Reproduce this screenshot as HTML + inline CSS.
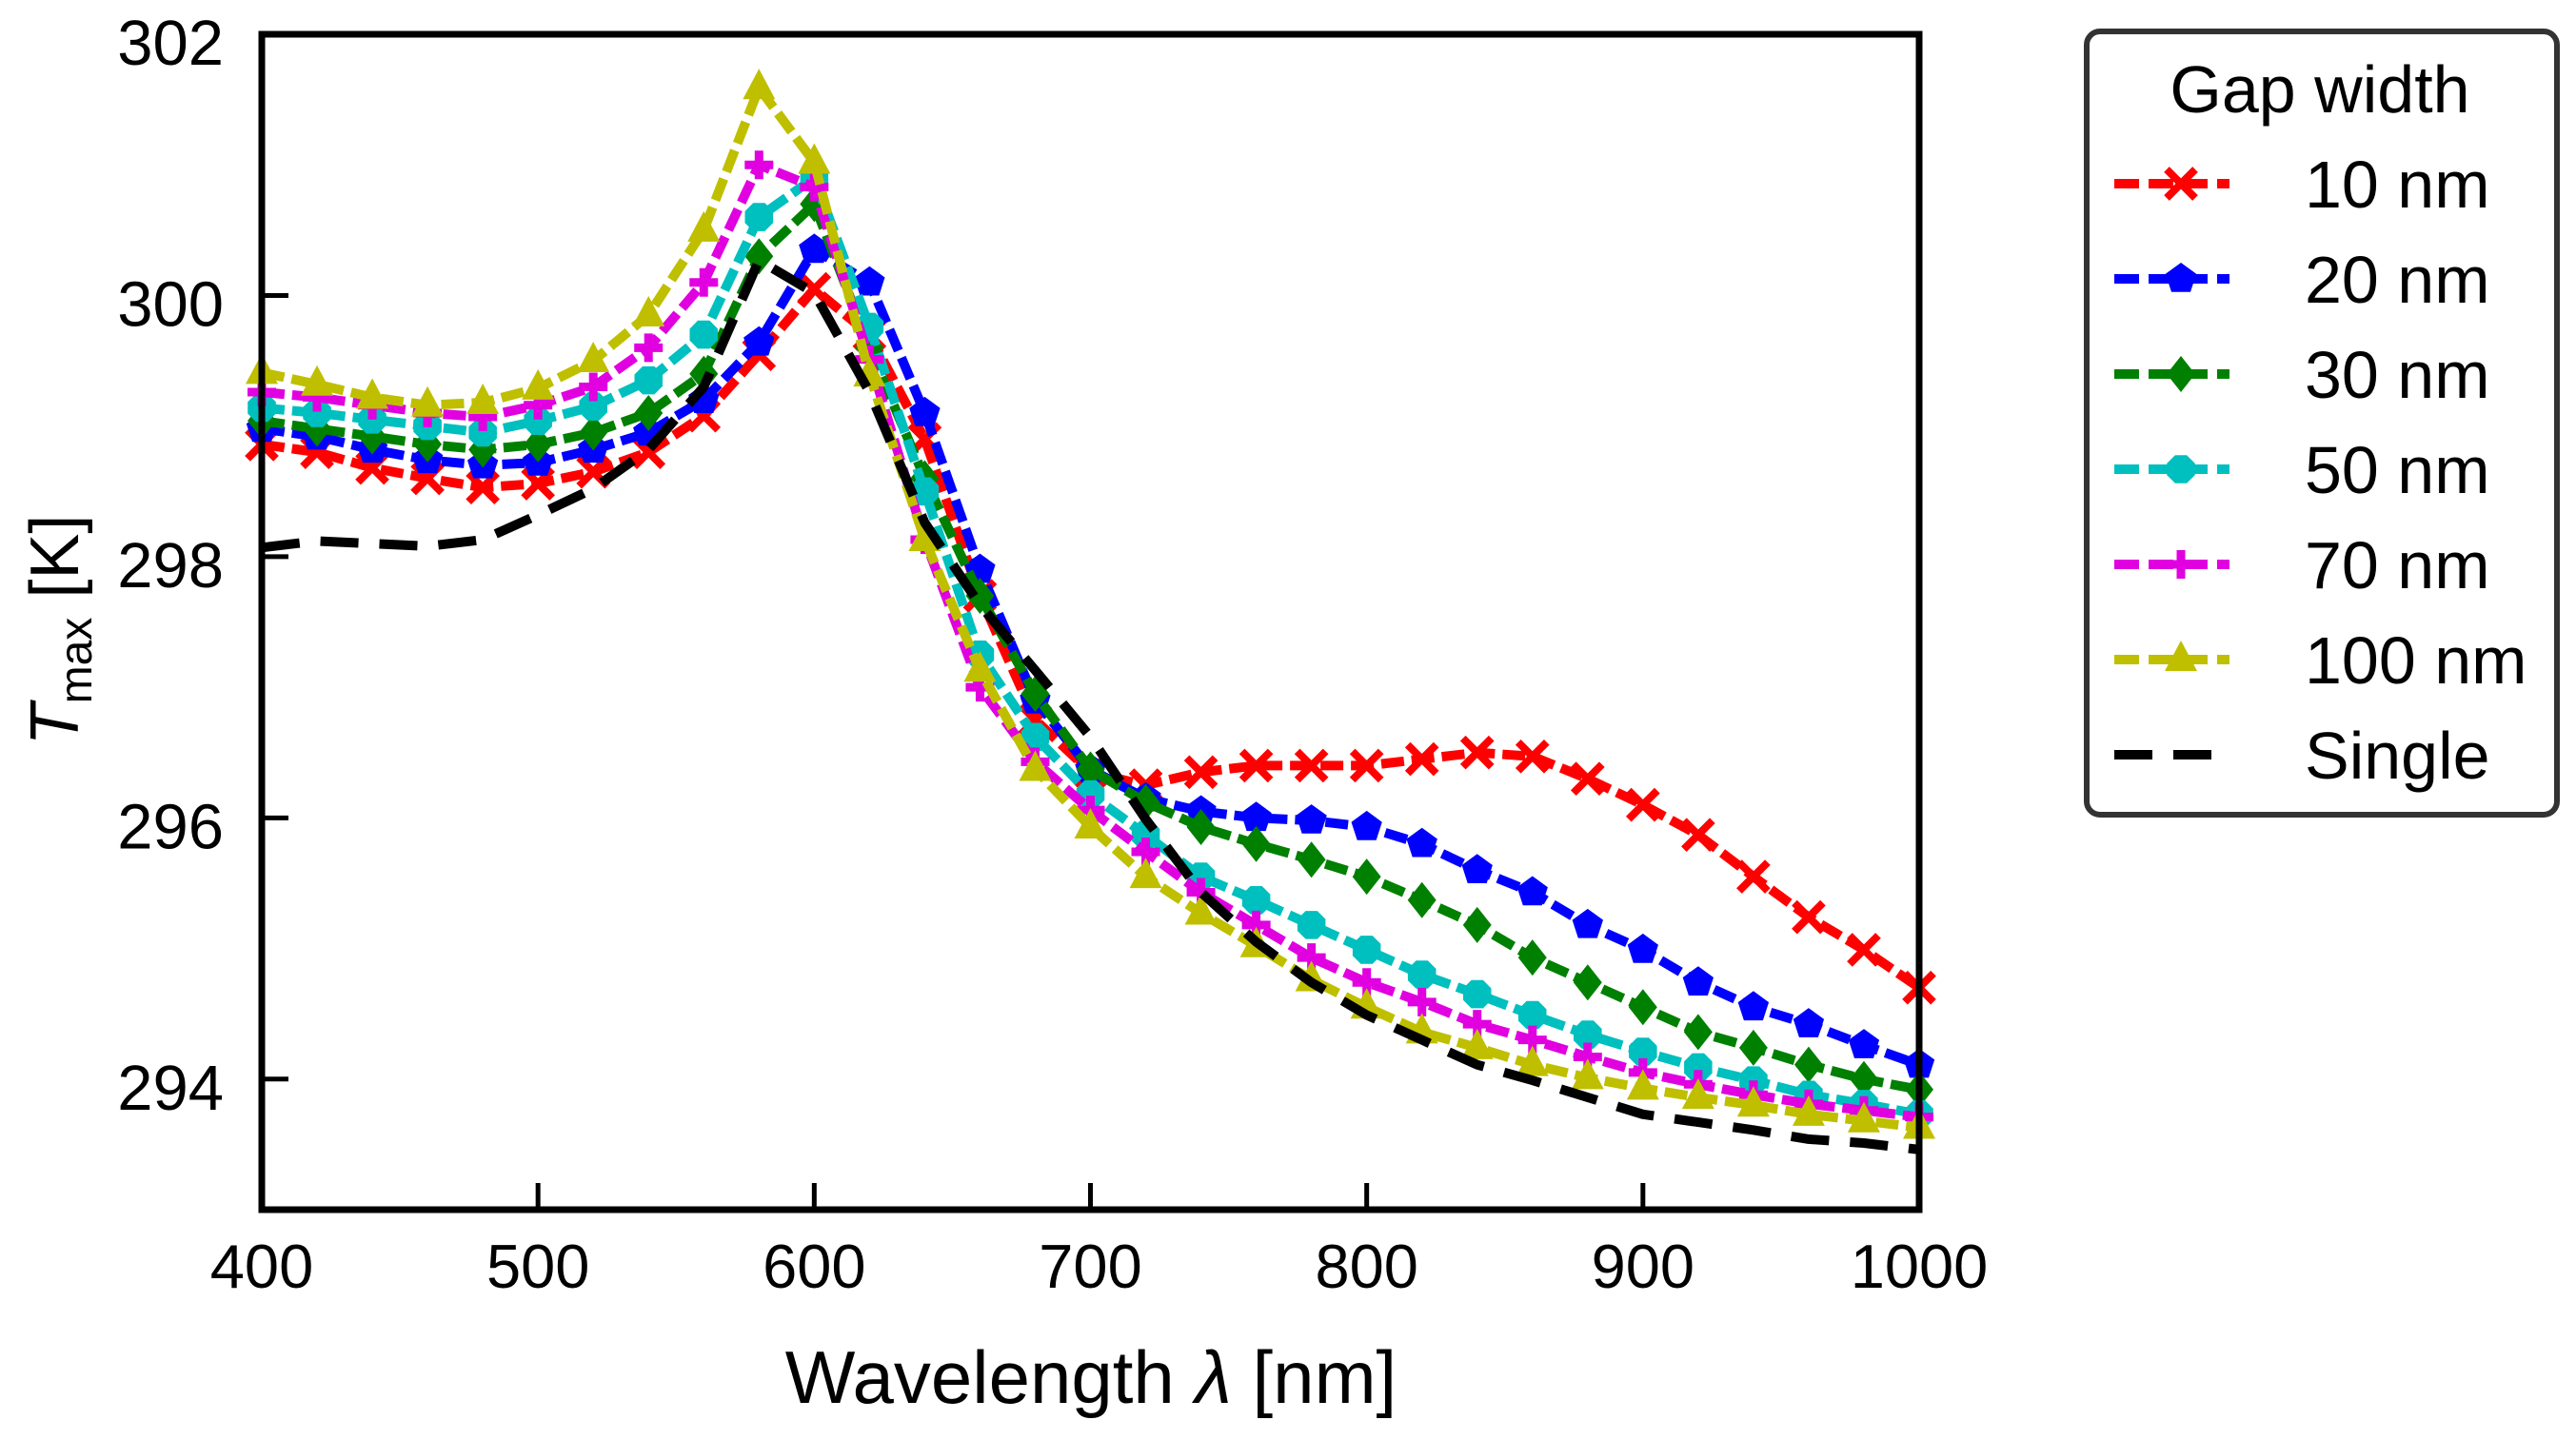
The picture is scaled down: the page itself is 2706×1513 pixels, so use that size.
<!DOCTYPE html>
<html><head><meta charset="utf-8"><style>
html,body{margin:0;padding:0;background:#fff;}
svg{display:block;font-family:"Liberation Sans",Arial,sans-serif;}
</style></head><body>
<svg id="chart" width="2706" height="1513" viewBox="0 0 2706 1513" xmlns="http://www.w3.org/2000/svg">
<rect width="2706" height="1513" fill="#fff"/>
<g id="series"></g>
<g id="axes"></g>
<g id="legend"></g>
</svg>
<script>
const wavelengths = [400,420,440,460,480,500,520,540,560,580,600,620,640,660,680,700,720,740,760,780,800,820,840,860,880,900,920,940,960,980,1000];
const gap10 = [298.86,298.8,298.68,298.6,298.53,298.56,298.65,298.8,299.08,299.55,300.05,299.7,298.9,297.7,296.75,296.35,296.25,296.35,296.4,296.4,296.4,296.45,296.5,296.47,296.3,296.1,295.87,295.55,295.24,294.99,294.7];
const gap20 = [298.98,298.92,298.82,298.74,298.7,298.72,298.82,298.95,299.2,299.64,300.35,300.1,299.1,297.9,296.9,296.37,296.15,296.05,296.0,295.98,295.93,295.8,295.6,295.43,295.18,294.99,294.74,294.55,294.42,294.26,294.11];
const gap30 = [299.04,298.98,298.92,298.86,298.82,298.86,298.95,299.1,299.4,300.3,300.7,299.6,298.6,297.7,296.95,296.37,296.12,295.93,295.8,295.68,295.55,295.37,295.18,294.93,294.74,294.55,294.36,294.24,294.11,294.0,293.92];
const gap50 = [299.14,299.1,299.05,299.0,298.95,299.04,299.15,299.35,299.7,300.6,300.9,299.76,298.5,297.25,296.62,296.18,295.87,295.55,295.37,295.18,294.99,294.8,294.65,294.49,294.34,294.21,294.09,293.99,293.88,293.81,293.73];
const gap70 = [299.26,299.22,299.16,299.1,299.07,299.16,299.3,299.6,300.1,301.0,300.83,299.51,298.13,297.0,296.43,296.06,295.74,295.43,295.18,294.93,294.74,294.59,294.42,294.3,294.17,294.05,293.96,293.88,293.81,293.76,293.71];
const gap100 = [299.41,299.32,299.22,299.16,299.18,299.29,299.5,299.85,300.5,301.59,301.02,299.39,298.13,297.13,296.37,295.93,295.55,295.27,295.02,294.76,294.55,294.36,294.24,294.11,294.01,293.93,293.86,293.8,293.73,293.68,293.63];
const single = [298.07,298.12,298.1,298.08,298.13,298.32,298.52,298.82,299.3,300.27,300.02,299.26,298.26,297.63,297.13,296.62,295.99,295.43,295.05,294.74,294.49,294.3,294.11,293.99,293.86,293.73,293.67,293.61,293.54,293.51,293.46];
const xTicks = [400,500,600,700,800,900,1000];
const yTicks = [294,296,298,300,302];
const legendLabels = ["10 nm","20 nm","30 nm","50 nm","70 nm","100 nm","Single"];

const NS="http://www.w3.org/2000/svg";
const L=275,R=2016,T=36,B=1271;
const X0=400,X1=1000,Y0=293.0,Y1=302.0;
const xs=v=>L+(v-X0)/(X1-X0)*(R-L);
const ys=v=>B-(v-Y0)/(Y1-Y0)*(B-T);
function mk(tag,attrs,parent){const e=document.createElementNS(NS,tag);for(const k in attrs)e.setAttribute(k,attrs[k]);parent.appendChild(e);return e;}

function marker(shape,cx,cy,color,parent){
  const s=15;let e;
  if(shape==='x'){
    e=mk('path',{d:`M${cx-s} ${cy-s}L${cx+s} ${cy+s}M${cx-s} ${cy+s}L${cx+s} ${cy-s}`,stroke:color,'stroke-width':8,fill:'none'},parent);
  }else if(shape==='plus'){
    e=mk('path',{d:`M${cx-s} ${cy}L${cx+s} ${cy}M${cx} ${cy-s}L${cx} ${cy+s}`,stroke:color,'stroke-width':9,fill:'none'},parent);
  }else if(shape==='pent'){
    let p=[];for(let i=0;i<5;i++){const a=-Math.PI/2+i*2*Math.PI/5;p.push((cx+17*Math.cos(a)).toFixed(1)+','+(cy+17*Math.sin(a)).toFixed(1));}
    e=mk('polygon',{points:p.join(' '),fill:color},parent);
  }else if(shape==='diamond'){
    e=mk('polygon',{points:`${cx},${cy-19} ${cx+15},${cy} ${cx},${cy+19} ${cx-15},${cy}`,fill:color},parent);
  }else if(shape==='oct'){
    let p=[];for(let i=0;i<8;i++){const a=Math.PI/8+i*Math.PI/4;p.push((cx+16*Math.cos(a)).toFixed(1)+','+(cy+16*Math.sin(a)).toFixed(1));}
    e=mk('polygon',{points:p.join(' '),fill:color},parent);
  }else if(shape==='tri'){
    e=mk('polygon',{points:`${cx},${cy-20} ${cx+17},${cy+12} ${cx-17},${cy+12}`,fill:color},parent);
  }
  return e;
}

const seriesDefs=[
 {vals:gap10,color:'#ff0000',shape:'x',name:'series-10nm'},
 {vals:gap20,color:'#0000ff',shape:'pent',name:'series-20nm'},
 {vals:gap30,color:'#008000',shape:'diamond',name:'series-30nm'},
 {vals:gap50,color:'#00bfbf',shape:'oct',name:'series-50nm'},
 {vals:gap70,color:'#e000e0',shape:'plus',name:'series-70nm'},
 {vals:gap100,color:'#bfbf00',shape:'tri',name:'series-100nm'},
 {vals:single,color:'#000000',shape:null,name:'series-single'}
];
const sg=document.getElementById('series');
seriesDefs.forEach(sd=>{
  const g=mk('g',{},sg);
  
  
  const d=sd.vals.map((v,i)=>(i?'L':'M')+xs(wavelengths[i]).toFixed(1)+' '+ys(v).toFixed(1)).join('');
  const line=mk('path',{d:d,fill:'none',stroke:sd.color,'stroke-width':sd.shape?10:10,'stroke-dasharray':sd.shape?'24 8':'40 22','stroke-linejoin':'round'},g);
  
  
  if(sd.shape){
    sd.vals.forEach((v,i)=>{
      const m=marker(sd.shape,xs(wavelengths[i]),ys(v),sd.color,g);
      
      
    });
  }
});

const ax=document.getElementById('axes');
const frame=mk('rect',{x:L,y:T,width:R-L,height:B-T,fill:'none',stroke:'#000','stroke-width':7},ax);


xTicks.forEach(t=>{
  const x=xs(t);
  const tk=mk('line',{x1:x,x2:x,y1:B,y2:B-28,stroke:'#000','stroke-width':5},ax);
  
  
  const tl=mk('text',{x:x,y:B+82,'text-anchor':'middle','font-size':65,fill:'#000'},ax);
  tl.textContent=t;
  
  
});
yTicks.forEach(t=>{
  const y=ys(t);
  const tk=mk('line',{x1:L,x2:L+28,y1:y,y2:y,stroke:'#000','stroke-width':5},ax);
  
  
  const tl=mk('text',{x:L-40,y:y+32,'text-anchor':'end','font-size':67,fill:'#000'},ax);
  tl.textContent=t;
  
  
});
const xl=mk('text',{x:1146,y:1474,'text-anchor':'middle','font-size':78,fill:'#000'},ax);
xl.innerHTML='Wavelength <tspan font-style="italic">λ</tspan> [nm]';


const yl=mk('text',{x:0,y:0,'text-anchor':'middle','font-size':72,fill:'#000',transform:'translate(82,662) rotate(-90)'},ax);
yl.innerHTML='<tspan font-style="italic">T</tspan><tspan font-size="48" dy="14">max</tspan><tspan dy="-14"> [K]</tspan>';



const lg=document.getElementById('legend');
const box=mk('rect',{x:2192,y:33,width:494,height:823,rx:14,fill:'#fff',stroke:'#333','stroke-width':6},lg);


const lt=mk('text',{x:2437,y:118,'text-anchor':'middle','font-size':70,fill:'#000'},lg);
lt.textContent='Gap width';


seriesDefs.forEach((sd,i)=>{
  const y=193+i*100;
  const g=mk('g',{},lg);
  
  
  mk('line',{x1:2221,x2:2342,y1:y,y2:y,stroke:sd.color,'stroke-width':10,'stroke-dasharray':sd.shape?'26 10':'40 22'},g);
  if(sd.shape)marker(sd.shape,2291,y,sd.color,g);
  const t=mk('text',{x:2421,y:y+25,'font-size':70,fill:'#000'},g);
  t.textContent=legendLabels[i];
});
</script>
</body></html>
